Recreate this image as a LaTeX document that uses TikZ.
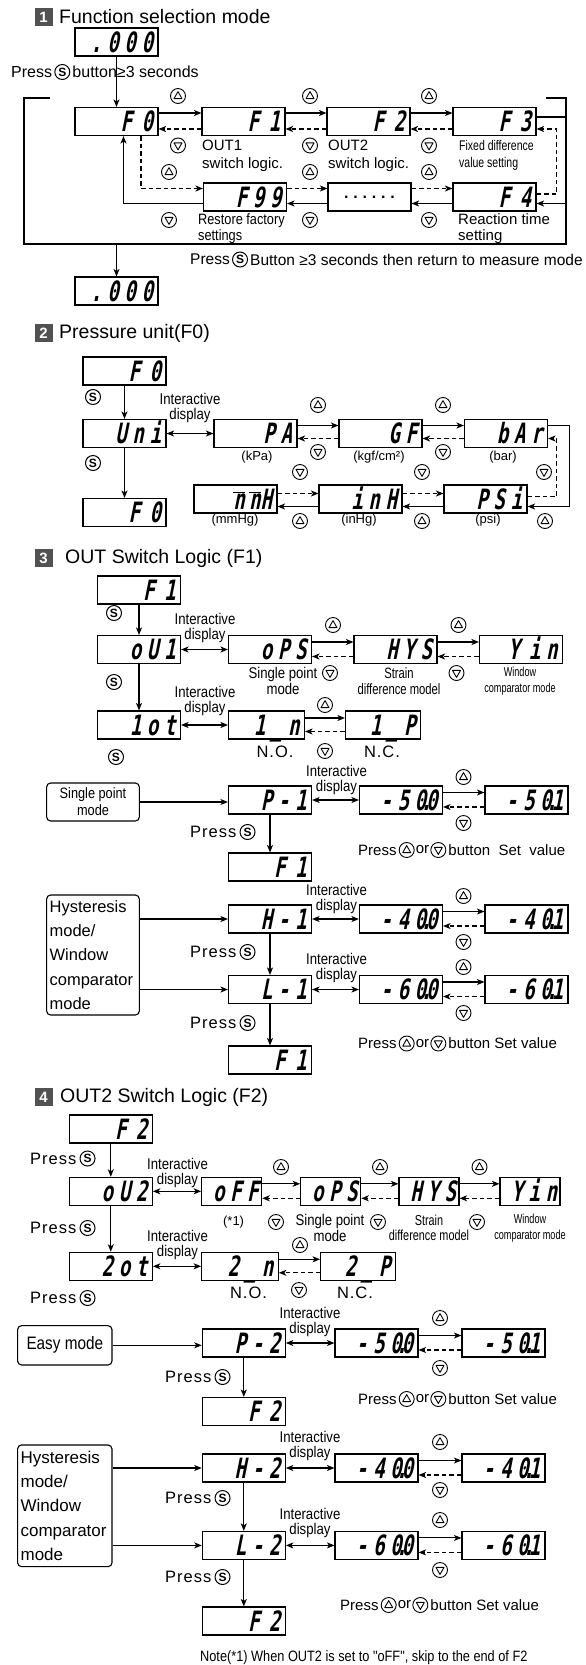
\documentclass[tikz,border=0pt]{standalone}
\usepackage{fontspec}
\setmainfont{Liberation Sans}
\newfontfamily\segfont[FakeSlant=0.2,FakeStretch=0.68,LetterSpace=20]{DejaVu Sans Mono}
\newfontfamily\condfont[FakeStretch=0.85]{Liberation Sans}
\newfontfamily\narrowfont[FakeStretch=0.75]{Liberation Sans}
\newfontfamily\vnarrowfont[FakeStretch=0.7]{Liberation Sans}
\newfontfamily\pressfont[LetterSpace=6]{Liberation Sans}
\usetikzlibrary{arrows.meta,positioning}
\newcommand\dpt{\makebox[0pt]{.}}
\newcommand\pudline[4]{%
  \node[lbl,anchor=west] (#1a) at (#2,#3) {Press};
  \node[ub,right=1pt of #1a] (#1b) {};
  \node[lbl,right=0pt of #1b] (#1c) {or};
  \node[db,right=0pt of #1c] (#1d) {};
  \node[lbl,right=1pt of #1d] (#1e) {#4};}
\newcommand\pressS[3]{%
  \node[pl,anchor=west] (#1a) at (#2,#3) {Press};
  \node[sb,right=2pt of #1a] (#1b) {S};}
\tikzset{
  disp/.style={draw, line width=1.1pt, text width=#1, align=right, inner xsep=5pt, inner ysep=0pt,
    minimum height=28pt, text height=20.5pt, text depth=0pt, font=\segfont\bfseries\fontsize{28}{28}\selectfont},
  disp/.default=73pt,
  dispn/.style={disp=54pt, inner xsep=3pt},
  dots/.style={draw, line width=1.1pt, minimum width=83pt, minimum height=28pt, inner sep=0pt,
    font=\bfseries\fontsize{16}{16}\selectfont\addfontfeature{LetterSpace=30}},
  lbl/.style={inner sep=1pt, font=\fontsize{15}{18}\selectfont},
  sm/.style={inner sep=1pt, font=\fontsize{13}{15}\selectfont, align=center},
  ia/.style={inner sep=0.5pt, font=\condfont\fontsize{15.5}{15}\selectfont, align=center},
  pl/.style={inner sep=1pt, font=\pressfont\fontsize{16.5}{18}\selectfont},
  sb/.style={circle, draw, line width=1pt, inner sep=0pt, minimum size=15pt, font=\bfseries\fontsize{12}{12}\selectfont},
  btn/.style={circle, draw, line width=0.9pt, inner sep=0pt, minimum size=15pt},
  ub/.style={btn, path picture={\draw[line width=0.9pt, line join=round]
    ([xshift=-4pt,yshift=-2.6pt]path picture bounding box.center) -- ++(8pt,0pt) -- ++(-4pt,7pt) -- cycle;}},
  db/.style={btn, path picture={\draw[line width=0.9pt, line join=round]
    ([xshift=-4pt,yshift=2.6pt]path picture bounding box.center) -- ++(8pt,0pt) -- ++(-4pt,-7pt) -- cycle;}},
  stl/.tip={Stealth[length=7.5pt,width=6pt,inset=2pt]},
  ar/.style={-stl, line width=1.1pt},
  dar/.style={ar, dash pattern=on 4.5pt off 3pt},
  lr/.style={stl-stl, line width=1.1pt},
  tsq/.style={fill=black!68, minimum size=18pt, inner sep=0pt, text=white, font=\bfseries\fontsize{15}{15}\selectfont},
  ttl/.style={anchor=west, inner sep=0pt, font=\fontsize{19.5}{21}\selectfont},
  mbox/.style={draw, line width=1.1pt, rounded corners=4pt},
}
\begin{document}
\begin{tikzpicture}[x=1pt,y=-1pt]
\fill[white] (0,0) rectangle (586,1665);
\path[use as bounding box] (0,0) rectangle (586,1665);

% ---------------- Section 1
\node[tsq] (s1) at (43.5,17) {1};
\node[ttl] (t1) at (59,17) {Function selection mode};
\node[disp] (d0) at (116.5,42) {.000};
\node[lbl,anchor=west,font=\fontsize{16}{18}\selectfont] (p1a) at (10,72) {Press};
\node[sb,right=1pt of p1a] (p1b) {S};
\node[lbl,right=1pt of p1b,font=\fontsize{16}{18}\selectfont] (p1c) {button≥3 seconds};

\node[disp] (f0) at (116.5,121.5) {F~0};
\node[disp] (f1) at (243.5,121.5) {F~1};
\node[disp] (f2) at (368.5,121.5) {F~2};
\node[disp] (f3) at (494.5,121.5) {F~3};
\node[disp] (f99) at (245,197) {F99};
\node[dots] (fd) at (369.5,197) {......};
\node[disp] (f4) at (494.5,197) {F~4};

\draw[ar] (d0.south) -- (f0.north);
\foreach \a/\b in {f0/f1,f1/f2,f2/f3}{
  \draw[ar] ([yshift=8.5pt]\a.east) -- ([yshift=8.5pt]\b.west);
  \draw[dar] ([yshift=-7.5pt]\b.west) -- ([yshift=-7.5pt]\a.east);}
\foreach \a/\b in {f99/fd,fd/f4}{
  \draw[dar] ([yshift=8.5pt]\a.east) -- ([yshift=8.5pt]\b.west);
  \draw[ar] ([yshift=-6.5pt]\b.west) -- ([yshift=-6.5pt]\a.east);}
\draw[ar] ([yshift=-6.5pt]f99.west) -| ([xshift=7pt]f0.south);
\draw[dar] ([xshift=24.5pt]f0.south) |- ([yshift=8.5pt]f99.west);
\draw[ar] ([yshift=4.5pt]f3.east) -- ++(30pt,0pt) |- ([yshift=-6.5pt]f4.east);
\draw[dar] ([yshift=3pt]f4.east) -- ++(20pt,0pt) |- ([yshift=-7.5pt]f3.east);

\node[ub] (u11) at (178,96) {}; \node[db] (d11) at (178,145.5) {};
\node[ub] (u12) at (310,96) {}; \node[db] (d12) at (310,145.5) {};
\node[ub] (u13) at (429,96) {}; \node[db] (d13) at (429,145.5) {};
\node[ub] (u14) at (169,172) {}; \node[db] (d14) at (169,220) {};
\node[ub] (u15) at (310,172) {}; \node[db] (d15) at (310,220) {};
\node[ub] (u16) at (429,172) {}; \node[db] (d16) at (429,220) {};

\node[lbl,anchor=west,align=left] (l1) at (201,155.5) {OUT1\\switch logic.};
\node[lbl,anchor=west,align=left] (l2) at (327,155.5) {OUT2\\switch logic.};
\node[lbl,anchor=west,align=left,font=\narrowfont\fontsize{14}{17}\selectfont] (l3) at (458,155) {Fixed difference\\value setting};
\node[lbl,anchor=west,align=left,font=\condfont\fontsize{15}{16.5}\selectfont] (l4) at (197,228.5) {Restore factory\\settings};
\node[lbl,anchor=west,align=left,font=\fontsize{15}{16.5}\selectfont] (l5) at (457,228.5) {Reaction time\\setting};

\draw[line width=2pt] (50,97.7) -- (24.3,97.7) -- (24.3,244) -- (566,244) -- (566,97.7) -- (546,97.7);
\node[lbl,anchor=west,font=\fontsize{15.5}{18}\selectfont] (p2a) at (189,259.5) {Press};
\node[sb,right=1pt of p2a] (p2b) {S};
\node[lbl,right=1pt of p2b,font=\fontsize{15.5}{18}\selectfont] (p2c) {Button ≥3 seconds then return to measure mode};
\coordinate (bb) at (116.5,244);
\node[disp] (d1) at (116.5,291) {.000};
\draw[ar] (bb) -- (d1.north);

% ---------------- Section 2
\node[tsq] (s2) at (43.5,333) {2};
\node[ttl] (t2) at (59,333) {Pressure unit(F0)};
\node[disp] (g0) at (124.5,371) {F~0};
\node[disp] (uni) at (124.5,433.5) {Uni};
\node[disp] (g1) at (124.5,512.5) {F~0};
\draw[ar] (g0.south) -- (uni.north);
\draw[ar] (uni.south) -- (g1.north);
\node[sb] (s21) at (93,397) {S};
\node[sb] (s22) at (93,463) {S};
\node[ia] (ia21) at (190,407.5) {Interactive\\display};
\node[disp] (pa) at (255.5,433.5) {PA};
\node[disp] (gf) at (380.5,433.5) {GF};
\node[disp] (bar) at (506,433.5) {bAr};
\draw[lr] (uni.east) -- (pa.west);
\foreach \a/\b in {pa/gf,gf/bar}{
  \draw[ar] ([yshift=8pt]\a.east) -- ([yshift=8pt]\b.west);
  \draw[dar] ([yshift=-5pt]\b.west) -- ([yshift=-5pt]\a.east);}
\node[ub] (u21) at (318,405) {}; \node[db] (d21) at (318,452) {};
\node[ub] (u22) at (443,405) {}; \node[db] (d22) at (443,452) {};
\node[sm] (k1) at (257,457) {(kPa)};
\node[sm] (k2) at (379,457) {(kgf/cm²)};
\node[sm] (k3) at (503,457) {(bar)};
\node[disp] (mmh) at (235.5,499) {$\overline{\mbox{n}}\,\overline{\mbox{n}}$H};
\node[disp] (inh) at (360.5,499) {inH};
\node[disp] (psi) at (485.5,499) {PSi};
\foreach \a/\b in {mmh/inh,inh/psi}{
  \draw[dar] ([yshift=5.5pt]\a.east) -- ([yshift=5.5pt]\b.west);
  \draw[ar] ([yshift=-7.5pt]\b.west) -- ([yshift=-7.5pt]\a.east);}
\draw[ar] ([yshift=8pt]bar.east) -- ++(21pt,0pt) |- ([yshift=-7.5pt]psi.east);
\draw[dar] ([yshift=2.5pt]psi.east) -- ++(29pt,0pt) |- ([yshift=-5pt]bar.east);
\node[db] (d23) at (300,472) {}; \node[ub] (u23) at (300,521) {};
\node[db] (d24) at (422,472) {}; \node[ub] (u24) at (422,521) {};
\node[db] (d25) at (544,472) {}; \node[ub] (u25) at (545,521) {};
\node[sm] (k4) at (235,520.5) {(mmHg)};
\node[sm] (k5) at (359,520.5) {(inHg)};
\node[sm] (k6) at (488,520.5) {(psi)};

% ---------------- Section 3
\node[tsq] (s3) at (43.5,558) {3};
\node[ttl] (t3) at (65,558) {OUT Switch Logic (F1)};
\node[disp] (h0) at (139,590) {F~1};
\node[sb] (s31) at (114,613) {S};
\node[disp] (ou1) at (139,649.5) {oU1};
\draw[ar] (h0.south) -- (ou1.north);
\node[ia] (ia31) at (205,627.5) {Interactive\\display};
\node[disp] (ops) at (270,649.5) {oPS};
\node[disp] (hys) at (395.5,649.5) {HYS};
\node[disp] (yin) at (521,649.5) {Y~in};
\draw[lr] (ou1.east) -- (ops.west);
\foreach \a/\b in {ops/hys,hys/yin}{
  \draw[ar] ([yshift=7.5pt]\a.east) -- ([yshift=7.5pt]\b.west);
  \draw[dar] ([yshift=-7pt]\b.west) -- ([yshift=-7pt]\a.east);}
\node[ub] (u31) at (333,625) {}; \node[db] (d31) at (330,673) {};
\node[ub] (u32) at (458.5,625) {}; \node[db] (d32) at (456.5,673) {};
\node[sm,font=\condfont\fontsize{15.5}{16}\selectfont] (m31) at (283,681) {Single point\\mode};
\node[sm,font=\narrowfont\fontsize{15}{16}\selectfont] (m32) at (399,681) {Strain\\difference model};
\node[sm,font=\vnarrowfont\fontsize{13}{16}\selectfont] (m33) at (520,681) {Window\\comparator mode};
\node[sb] (s32) at (114,682) {S};
\node[disp] (lot) at (139,725) {1ot};
\draw[ar] (ou1.south) -- (lot.north);
\node[ia] (ia32) at (205,701) {Interactive\\display};
\node[disp=66pt] (n1) at (266.5,725) {1\_n};
\node[disp=65pt] (q1) at (383,725) {1\_P};
\draw[lr] (lot.east) -- (n1.west);
\draw[ar] ([yshift=7pt]n1.east) -- ([yshift=7pt]q1.west);
\draw[dar] ([yshift=-6.5pt]q1.west) -- ([yshift=-6.5pt]n1.east);
\node[ub] (u33) at (325,705) {}; \node[db] (d33) at (325,751) {};
\node[pl] (no1) at (275,752) {N.O.};
\node[pl] (nc1) at (382,752) {N.C.};
\node[sb] (s33) at (116,757) {S};

\node[mbox,font=\condfont\fontsize{15}{17}\selectfont,align=center,minimum width=92.7pt,minimum height=38pt] (spm) at (93,802) {Single point\\mode};
\node[disp] (pm1) at (270,800) {P-1};
\draw[ar] (spm) -- (spm -| pm1.west);
\node[ia] (ia33) at (336.5,780) {Interactive\\display};
\node[disp] (v500) at (401,800) {-50\dpt0};
\node[disp] (v501) at (526.5,800) {-50\dpt1};
\draw[lr] (pm1.east) -- (v500.west);
\draw[ar] ([yshift=7.5pt]v500.east) -- ([yshift=7.5pt]v501.west);
\draw[dar] ([yshift=-7pt]v501.west) -- ([yshift=-7pt]v500.east);
\node[ub] (u34) at (463.5,777) {}; \node[db] (d34) at (463.5,823) {};
\pressS{p31}{189}{832}
\node[disp] (f1b) at (270,867) {F~1};
\draw[ar] (pm1.south) -- (f1b.north);
\pudline{pu1}{357}{850}{button \ Set \ value}

\node[mbox,font=\fontsize{16.5}{24.2}\selectfont,align=left,text width=86.7pt,inner xsep=3pt,minimum height=120pt] (hy1) at (93,955) {Hysteresis\\mode/\\Window\\comparator\\mode};
\node[disp] (hm1) at (270,919) {H-1};
\node[disp] (lm1) at (270,989.5) {L-1};
\node[disp] (f1c) at (270,1060) {F~1};
\draw[ar] (hy1.east |- hm1.west) -- (hm1.west);
\draw[ar] (hy1.east |- lm1.west) -- (lm1.west);
\draw[ar] (hm1.south) -- (lm1.north);
\draw[ar] (lm1.south) -- (f1c.north);
\node[ia] (ia34) at (336.5,898.5) {Interactive\\display};
\node[ia] (ia35) at (336.5,967.5) {Interactive\\display};
\node[disp] (v400) at (401,919) {-40\dpt0};
\node[disp] (v401) at (526.5,919) {-40\dpt1};
\node[disp] (v600) at (401,989.5) {-60\dpt0};
\node[disp] (v601) at (526.5,989.5) {-60\dpt1};
\draw[lr] (hm1.east) -- (v400.west);
\draw[lr] (lm1.east) -- (v600.west);
\foreach \a/\b in {v400/v401,v600/v601}{
  \draw[ar] ([yshift=7.5pt]\a.east) -- ([yshift=7.5pt]\b.west);
  \draw[dar] ([yshift=-7pt]\b.west) -- ([yshift=-7pt]\a.east);}
\node[ub] (u35) at (463.5,896) {}; \node[db] (d35) at (463.5,942) {};
\node[ub] (u36) at (463.5,967) {}; \node[db] (d36) at (463.5,1013) {};
\pressS{p32}{189}{952}
\pressS{p33}{189}{1023}
\pudline{pu2}{357}{1043.5}{button Set value}

% ---------------- Section 4
\node[tsq] (s4) at (43.5,1097) {4};
\node[ttl] (t4) at (60,1097) {OUT2 Switch Logic (F2)};
\node[disp] (k0) at (110.8,1129) {F~2};
\pressS{p41}{29}{1158.5}
\node[disp] (ou2) at (110.8,1191.3) {oU2};
\draw[ar] (k0.south) -- (ou2.north);
\node[ia] (ia41) at (177.5,1172.5) {Interactive\\display};
\node[dispn] (off) at (231.7,1191.3) {oFF};
\node[dispn] (ops2) at (330.7,1191.3) {oPS};
\node[dispn] (hys2) at (429,1191.3) {HYS};
\node[dispn] (yin2) at (530,1191.3) {Yin};
\draw[lr] (ou2.east) -- (off.west);
\foreach \a/\b in {off/ops2,ops2/hys2,hys2/yin2}{
  \draw[ar] ([yshift=7.5pt]\a.east) -- ([yshift=7.5pt]\b.west);
  \draw[dar] ([yshift=-7pt]\b.west) -- ([yshift=-7pt]\a.east);}
\node[ub] (u41) at (281,1167) {}; \node[db] (d41) at (276,1222) {};
\node[ub] (u42) at (380,1167) {}; \node[db] (d42) at (378,1222) {};
\node[ub] (u43) at (479.5,1167) {}; \node[db] (d43) at (477,1222) {};
\node[sm] (st1) at (233.6,1222) {(*1)};
\node[sm,font=\condfont\fontsize{15.5}{15.5}\selectfont] (m41) at (330,1228) {Single point\\mode};
\node[sm,font=\narrowfont\fontsize{14.5}{15.5}\selectfont] (m42) at (429,1228) {Strain\\difference model};
\node[sm,font=\vnarrowfont\fontsize{13}{15.5}\selectfont] (m43) at (530,1228) {Window\\comparator mode};
\pressS{p42}{29}{1228}
\node[disp] (zot) at (110.8,1266.3) {2ot};
\draw[ar] (ou2.south) -- (zot.north);
\node[ia] (ia42) at (177.5,1245) {Interactive\\display};
\node[disp=66.6pt] (n2) at (240,1266.3) {2\_n};
\node[disp=64.8pt] (q2) at (358,1266.3) {2\_P};
\draw[lr] (zot.east) -- (n2.west);
\draw[ar] ([yshift=7pt]n2.east) -- ([yshift=7pt]q2.west);
\draw[dar] ([yshift=-6.5pt]q2.west) -- ([yshift=-6.5pt]n2.east);
\node[ub] (u44) at (300,1245) {}; \node[db] (d44) at (299,1290) {};
\node[pl] (no2) at (248.5,1293) {N.O.};
\node[pl] (nc2) at (355,1293) {N.C.};
\pressS{p43}{29}{1298}

\node[mbox,font=\condfont\fontsize{18}{20}\selectfont,minimum width=94.4pt,minimum height=39.3pt] (easy) at (64.8,1345.3) {Easy mode};
\node[disp] (pm2) at (243.8,1343) {P-2};
\draw[ar] (easy) -- (easy -| pm2.west);
\node[ia] (ia43) at (310,1322) {Interactive\\display};
\node[disp] (w500) at (376.5,1343) {-50\dpt0};
\node[disp] (w501) at (503.5,1343) {-50\dpt1};
\draw[lr] (pm2.east) -- (w500.west);
\draw[ar] ([yshift=7.5pt]w500.east) -- ([yshift=7.5pt]w501.west);
\draw[dar] ([yshift=-7pt]w501.west) -- ([yshift=-7pt]w500.east);
\node[ub] (u45) at (440,1318) {}; \node[db] (d45) at (440,1368) {};
\pressS{p44}{164}{1377}
\node[disp] (f2b) at (243.8,1411.5) {F~2};
\draw[ar] (pm2.south) -- (f2b.north);
\pudline{pu3}{357}{1399}{button Set value}

\node[mbox,font=\fontsize{17}{24.2}\selectfont,align=left,text width=88.4pt,inner xsep=3pt,minimum height=121.7pt] (hy2) at (64.8,1505.8) {Hysteresis\\mode/\\Window\\comparator\\mode};
\node[disp] (hm2) at (243.8,1468) {H-2};
\node[disp] (lm2) at (243.8,1545.4) {L-2};
\node[disp] (f2c) at (243.8,1621) {F~2};
\draw[ar] (hy2.east |- hm2.west) -- (hm2.west);
\draw[ar] (hy2.east |- lm2.west) -- (lm2.west);
\draw[ar] (hm2.south) -- (lm2.north);
\draw[ar] (lm2.south) -- (f2c.north);
\node[ia] (ia44) at (310,1445.5) {Interactive\\display};
\node[ia] (ia45) at (310,1522.5) {Interactive\\display};
\node[disp] (w400) at (376.5,1468) {-40\dpt0};
\node[disp] (w401) at (503.5,1468) {-40\dpt1};
\node[disp] (w600) at (376.5,1545.4) {-60\dpt0};
\node[disp] (w601) at (503.5,1545.4) {-60\dpt1};
\draw[lr] (hm2.east) -- (w400.west);
\draw[lr] (lm2.east) -- (w600.west);
\foreach \a/\b in {w400/w401,w600/w601}{
  \draw[ar] ([yshift=7.5pt]\a.east) -- ([yshift=7.5pt]\b.west);
  \draw[dar] ([yshift=-7pt]\b.west) -- ([yshift=-7pt]\a.east);}
\node[ub] (u46) at (440,1442) {}; \node[db] (d46) at (440,1490) {};
\node[ub] (u47) at (440,1520) {}; \node[db] (d47) at (440,1570) {};
\pressS{p45}{164}{1498}
\pressS{p46}{164}{1577}
\pudline{pu4}{339}{1605}{button Set value}
\node[lbl,anchor=west,font=\condfont\fontsize{15}{17}\selectfont] (note) at (199,1658) {Note(*1) When OUT2 is set to "oFF", skip to the end of F2};
\end{tikzpicture}
\end{document}
